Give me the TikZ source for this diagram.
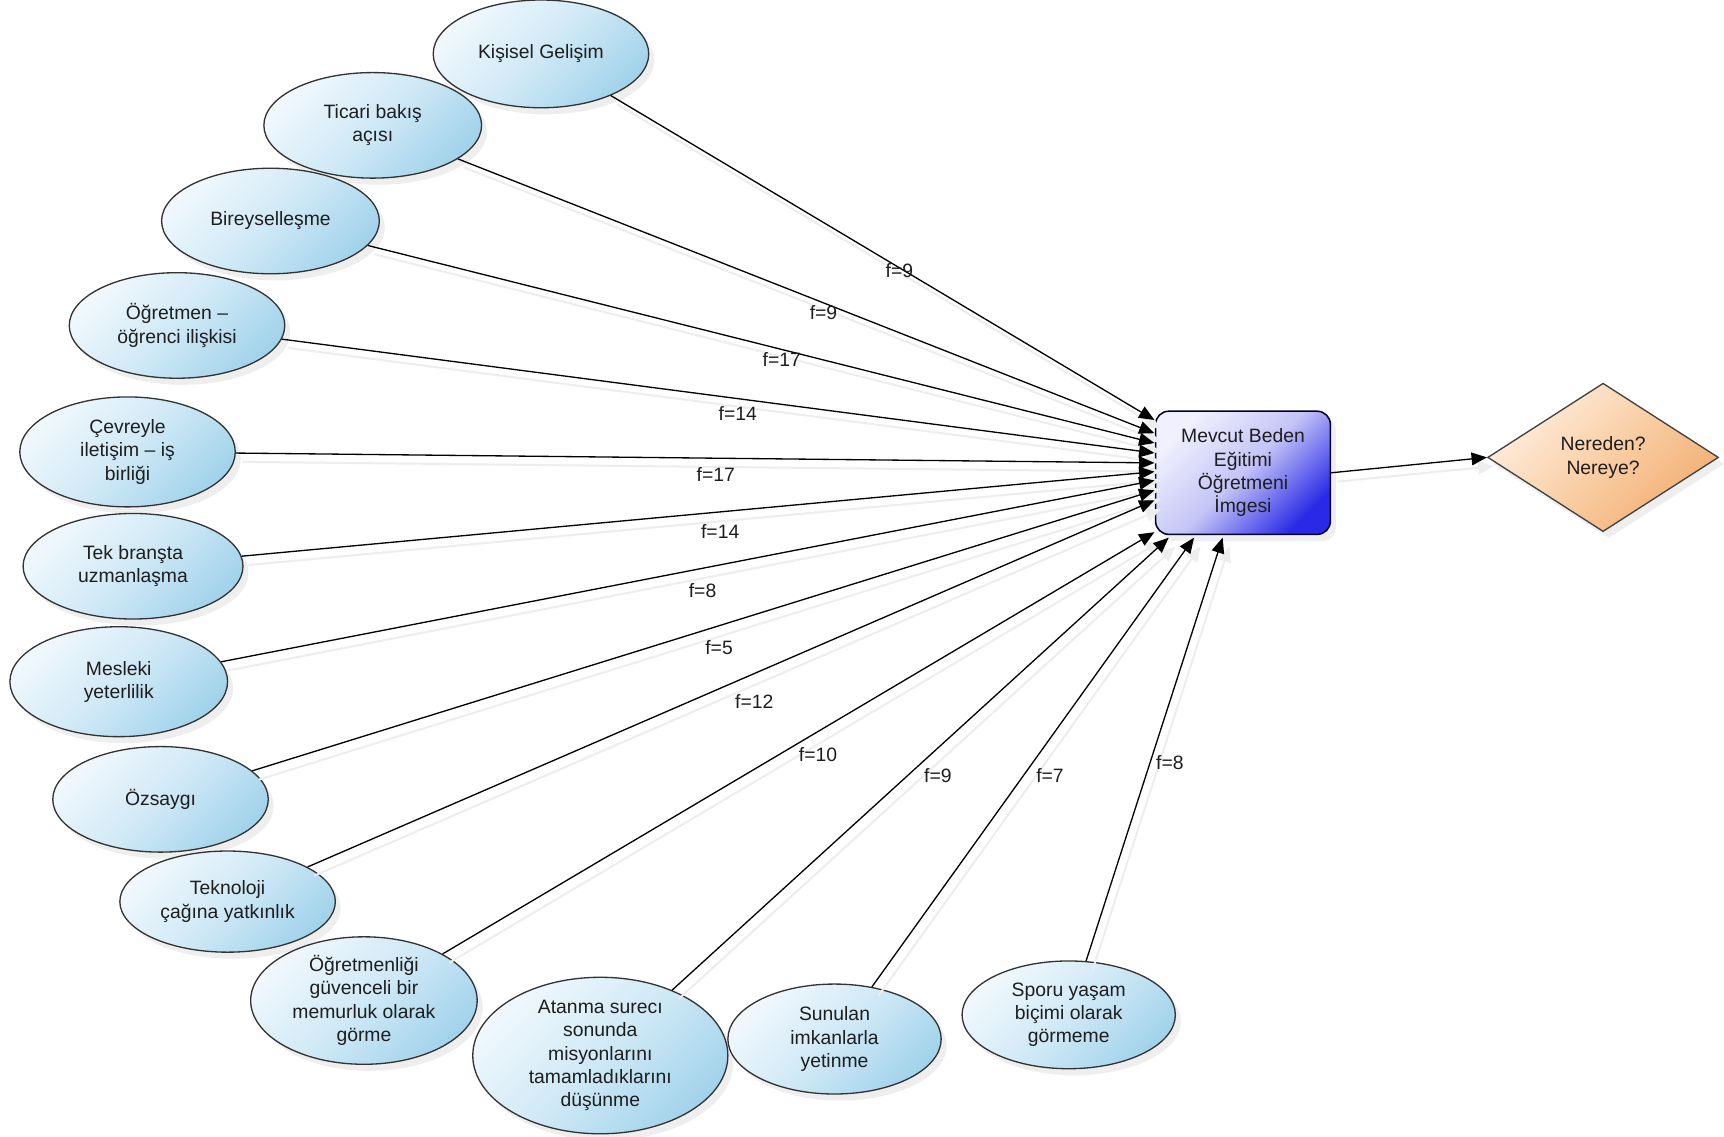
\documentclass[tikz,border=0pt]{standalone}
\usepackage{fontspec}
\setmainfont{Liberation Sans}
\usetikzlibrary{shapes.geometric, arrows.meta, shadows}
\definecolor{elTop}{HTML}{F0F8FD}
\definecolor{elMid}{HTML}{D0E9F6}
\definecolor{elBot}{HTML}{A2D3EB}
\definecolor{bxTop}{HTML}{F0F0FE}
\definecolor{bxMid}{HTML}{C4C4F7}
\definecolor{bxBot}{HTML}{2A2AE6}
\definecolor{dmTop}{HTML}{FEEEDF}
\definecolor{dmMid}{HTML}{F9CFA6}
\definecolor{dmBot}{HTML}{F2AE72}
\definecolor{txt}{HTML}{1E1E1E}
\begin{document}
\begin{tikzpicture}[x=0.5pt, y=-0.5pt,
  every node/.style={font=\fontsize{8.8}{10.6}\selectfont, text=txt},
  oval/.style={ellipse, draw=black!80, line width=0.6pt, inner sep=0pt, align=center,
     top color=elTop, bottom color=elBot, middle color=elMid, shading angle=45,
     drop shadow={shadow xshift=2.5pt, shadow yshift=-3pt, opacity=0.13}},
  mainbox/.style={rectangle, rounded corners=6pt, draw=black!85!blue, line width=0.7pt,
     inner sep=0pt, align=center, minimum width=79.5pt, minimum height=56pt,
     top color=bxTop, bottom color=bxBot, middle color=bxMid, shading angle=45,
     drop shadow={shadow xshift=2.5pt, shadow yshift=-3pt, opacity=0.13}},
  decision/.style={diamond, draw=black!75, line width=0.6pt, inner sep=0pt, align=center,
     minimum width=105pt, minimum height=67.5pt,
     top color=dmTop, bottom color=dmBot, middle color=dmMid, shading angle=45,
     drop shadow={shadow xshift=2.5pt, shadow yshift=-3pt, opacity=0.13}},
  conn/.style={-{Triangle[length=7pt,width=5.8pt]}, line width=0.6pt, draw=black,
     preaction={draw=black!7, line width=0.9pt, transform canvas={shift={(3pt,-4pt)}}}},
  lbl/.style={inner sep=0pt}
]
\useasboundingbox[fill=white] (0,0) rectangle (1568,1034);

% oval nodes
\node[oval, minimum width=98pt, minimum height=49pt] (e1) at (492,49) {Kişisel Gelişim};
\node[oval, minimum width=99pt, minimum height=48pt] (e2) at (339,114) {Ticari bakış\\açısı};
\node[oval, minimum width=99pt, minimum height=48pt] (e3) at (246,201) {Bireyselleşme};
\node[oval, minimum width=98pt, minimum height=48pt] (e4) at (161,296) {Öğretmen –\\öğrenci ilişkisi};
\node[oval, minimum width=98pt, minimum height=50pt] (e5) at (116,411) {Çevreyle\\iletişim – iş\\birliği};
\node[oval, minimum width=100pt, minimum height=48pt] (e6) at (121,515) {Tek branşta\\uzmanlaşma};
\node[oval, minimum width=99pt, minimum height=50pt] (e7) at (108,620) {Mesleki\\yeterlilik};
\node[oval, minimum width=98pt, minimum height=48pt] (e8) at (146,727) {Özsaygı};
\node[oval, minimum width=98pt, minimum height=46pt] (e9) at (207,820) {Teknoloji\\çağına yatkınlık};
\node[oval, minimum width=103pt, minimum height=55pt] (e10) at (331,910) {Öğretmenliği\\güvenceli bir\\memurluk olarak\\görme};
\node[oval, minimum width=116pt, minimum height=70pt] (e11) at (546,960) {Atanma surecı\\sonunda\\misyonlarını\\tamamladıklarını\\düşünme};
\node[oval, minimum width=97pt, minimum height=50pt] (e12) at (759,945) {Sunulan\\imkanlarla\\yetinme};
\node[oval, minimum width=97pt, minimum height=49pt] (e13) at (972,923) {Sporu yaşam\\biçimi olarak\\görmeme};

% central box and decision
\node[mainbox] (m) at (1130.5,430) {Mevcut Beden\\Eğitimi\\Öğretmeni\\İmgesi};
\node[decision] (d) at (1458,416) {Nereden?\\Nereye?};

% arrow tip points on the box
\coordinate (t1) at (1050,382);
\coordinate (t2) at (1050,394);
\coordinate (t3) at (1050,403);
\coordinate (t4) at (1050,412);
\coordinate (t5) at (1050,421);
\coordinate (t6) at (1050,429);
\coordinate (t7) at (1050,437);
\coordinate (t8) at (1050,446);
\coordinate (t9) at (1050,455);
\coordinate (t10) at (1050,484);
\coordinate (t11) at (1063,489);
\coordinate (t12) at (1086,489);
\coordinate (t13) at (1112,489);

% connectors with labels
\draw[conn] (e1) -- (t1) node[lbl] at (818,246) {f=9};
\draw[conn] (e2) -- (t2) node[lbl] at (749,284) {f=9};
\draw[conn] (e3) -- (t3) node[lbl] at (711,327) {f=17};
\draw[conn] (e4) -- (t4) node[lbl] at (671,376) {f=14};
\draw[conn] (e5) -- (t5) node[lbl] at (651,432) {f=17};
\draw[conn] (e6) -- (t6) node[lbl] at (655,483) {f=14};
\draw[conn] (e7) -- (t7) node[lbl] at (639,537) {f=8};
\draw[conn] (e8) -- (t8) node[lbl] at (654,589) {f=5};
\draw[conn] (e9) -- (t9) node[lbl] at (686,638) {f=12};
\draw[conn] (e10) -- (t10) node[lbl] at (744,686) {f=10};
\draw[conn] (e11) -- (t11) node[lbl] at (853,705) {f=9};
\draw[conn] (e12) -- (t12) node[lbl] at (955,705) {f=7};
\draw[conn] (e13) -- (t13) node[lbl] at (1064,694) {f=8};

\draw[conn] (m.east) -- (d.west);
\end{tikzpicture}
\end{document}
